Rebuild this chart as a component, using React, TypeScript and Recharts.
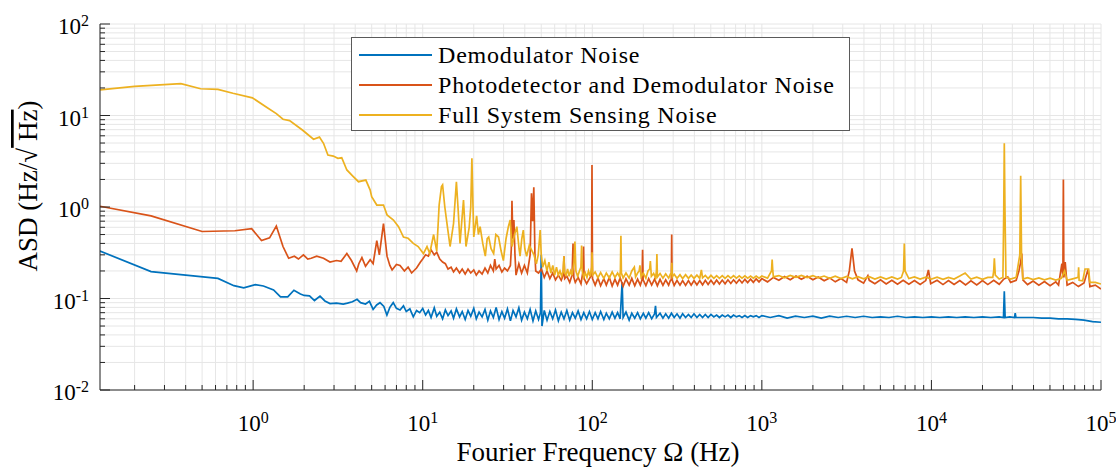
import React from 'react';
import { LineChart, Line, XAxis, YAxis, CartesianGrid, Legend, Customized } from 'recharts';

const FONT = '"Liberation Serif", "Times New Roman", serif';
const AXIS_COLOR = '#262626';
const GRID_COLOR = '#e6e6e6';
const MAJOR_LEN = 10;
const MINOR_LEN = 5;

const SERIES_NAMES = ['Demodulator Noise', 'Photodetector and Demodulator Noise', 'Full System Sensing Noise'];
const SERIES_COLORS = ['#0072bd', '#d95319', '#edb120'];

const X_DOMAIN: [number, number] = [0.125, 100000];
const Y_DOMAIN: [number, number] = [0.01, 100];
const X_DECADES = [0.1, 1, 10, 100, 1000, 10000, 100000];
const Y_DECADES = [0.01, 0.1, 1, 10, 100];
const MINOR_STEPS = [1, 2, 3, 4, 5, 6, 7, 8, 9];

// [frequency Hz, ASD Hz/sqrt(Hz)]
const demodNoise: [number, number][] = [
  [0.125, 0.33], [0.25, 0.197], [0.49, 0.173], [0.62, 0.166], [0.77, 0.138], [0.88, 0.131],
  [1.03, 0.142], [1.15, 0.137], [1.32, 0.124], [1.45, 0.104], [1.6, 0.104], [1.74, 0.123],
  [1.9, 0.112], [2.0, 0.108], [2.15, 0.107], [2.3, 0.095], [2.48, 0.106], [2.65, 0.094],
  [2.84, 0.088], [3.1, 0.089], [3.4, 0.087], [3.6, 0.089], [3.85, 0.092], [4.1, 0.098],
  [4.3, 0.09], [4.6, 0.087], [4.85, 0.093], [5.1, 0.076], [5.35, 0.085], [5.6, 0.09],
  [5.9, 0.082], [6.15, 0.066], [6.4, 0.08], [6.7, 0.09], [7.0, 0.078], [7.35, 0.075],
  [7.7, 0.083], [8.0, 0.072], [8.4, 0.077], [8.8, 0.063], [9.2, 0.074], [9.6, 0.07],
  [10, 0.078], [10.4, 0.066], [10.8, 0.074], [11.2, 0.062], [11.7, 0.079], [12.1, 0.064],
  [12.6, 0.071], [13.1, 0.06], [13.6, 0.075], [14.1, 0.065], [14.7, 0.073], [15.2, 0.061],
  [15.8, 0.077], [16.5, 0.063], [17.1, 0.072], [17.8, 0.059], [18.5, 0.074], [19.2, 0.064],
  [20, 0.078], [20.7, 0.06], [21.5, 0.071], [22.4, 0.063], [23.3, 0.076], [24.2, 0.058],
  [25.1, 0.073], [26.1, 0.062], [27.1, 0.08], [28.2, 0.059], [29.3, 0.072], [30.4, 0.061],
  [31.6, 0.077], [32.9, 0.057], [34.1, 0.074], [35.5, 0.063], [36.9, 0.079], [38.3, 0.058],
  [39.8, 0.071], [41.4, 0.06], [43, 0.076], [44.7, 0.057], [46.4, 0.073], [48.2, 0.059],
  [49.5, 0.07], [50, 0.3], [50.5, 0.05], [52.1, 0.074], [54.1, 0.058], [56.2, 0.072],
  [58.4, 0.06], [60.7, 0.075], [63.1, 0.057], [65.6, 0.071], [68.1, 0.06], [70.8, 0.074],
  [73.6, 0.058], [76.4, 0.07], [79.4, 0.061], [82.5, 0.073], [85.8, 0.059], [89.1, 0.07],
  [92.6, 0.06], [96.2, 0.072], [100, 0.059], [104, 0.07], [108, 0.06], [112, 0.072],
  [117, 0.059], [121, 0.069], [126, 0.06], [131, 0.071], [136, 0.061], [141, 0.07], [146, 0.06],
  [150, 0.15], [152, 0.062], [158, 0.071], [165, 0.058], [171, 0.069], [178, 0.061], [185, 0.07],
  [192, 0.06], [200, 0.069], [207, 0.061], [215, 0.07], [224, 0.06], [233, 0.068], [236, 0.083],
  [239, 0.062], [251, 0.069], [261, 0.061], [271, 0.068], [282, 0.061], [293, 0.069], [304, 0.062],
  [316, 0.068], [329, 0.061], [341, 0.068], [355, 0.062], [369, 0.067], [383, 0.062], [398, 0.068],
  [414, 0.062], [430, 0.067], [447, 0.062], [464, 0.067], [482, 0.062], [501, 0.067], [521, 0.063],
  [541, 0.066], [562, 0.062], [584, 0.066], [607, 0.063], [631, 0.066], [656, 0.062], [681, 0.066],
  [708, 0.063], [736, 0.065], [764, 0.062], [794, 0.065], [825, 0.062], [858, 0.065], [891, 0.063],
  [926, 0.065], [962, 0.062], [1000, 0.065], [1120, 0.062], [1260, 0.065], [1410, 0.061],
  [1580, 0.064], [1780, 0.062], [2000, 0.064], [2240, 0.061], [2510, 0.064], [2820, 0.062],
  [3160, 0.064], [3550, 0.062], [3980, 0.064], [4470, 0.062], [5010, 0.063], [5620, 0.062],
  [6310, 0.064], [7080, 0.062], [7940, 0.063], [8910, 0.062], [10000, 0.063], [11200, 0.062],
  [12600, 0.063], [14100, 0.062], [15800, 0.063], [17800, 0.062], [20000, 0.063], [22400, 0.062],
  [25100, 0.063], [26600, 0.062], [26900, 0.12], [27200, 0.062], [29000, 0.063], [30900, 0.062],
  [31200, 0.069], [31500, 0.062], [35500, 0.062], [39800, 0.062], [44700, 0.061], [50100, 0.061],
  [56200, 0.06], [63100, 0.06], [70800, 0.059], [79400, 0.058], [89100, 0.056], [100000, 0.055],
];

const detectorNoise: [number, number][] = [
  [0.125, 1.02], [0.25, 0.8], [0.5, 0.54], [0.78, 0.55], [0.98, 0.58], [1.12, 0.43], [1.25, 0.46],
  [1.37, 0.62], [1.5, 0.37], [1.62, 0.275], [1.75, 0.29], [1.85, 0.27], [1.98, 0.3], [2.1, 0.27],
  [2.2, 0.275], [2.37, 0.29], [2.6, 0.275], [2.84, 0.25], [3.1, 0.26], [3.3, 0.255], [3.57, 0.31],
  [3.8, 0.26], [4.08, 0.2], [4.2, 0.24], [4.38, 0.28], [4.6, 0.225], [4.9, 0.265], [5.1, 0.24],
  [5.36, 0.43], [5.55, 0.3], [5.87, 0.66], [6.16, 0.29], [6.4, 0.23], [6.6, 0.205], [7.0, 0.235],
  [7.35, 0.23], [7.8, 0.2], [8.2, 0.22], [8.6, 0.19], [9.2, 0.215], [9.7, 0.25],
  [10, 0.27], [10.4, 0.3], [10.8, 0.29], [11.2, 0.34], [11.7, 0.3], [12.1, 0.32], [12.6, 0.27],
  [13.1, 0.25], [13.6, 0.24], [14.1, 0.21], [14.7, 0.22], [15.2, 0.195], [15.8, 0.215],
  [16.5, 0.19], [17.1, 0.21], [17.8, 0.185], [18.5, 0.21], [19.2, 0.19], [20, 0.205], [20.7, 0.18],
  [21.5, 0.2], [22.4, 0.185], [23.3, 0.215], [24.2, 0.19], [25.1, 0.23], [26.1, 0.2], [26.6, 0.27],
  [27.1, 0.21], [28.2, 0.23], [29.3, 0.195], [30.4, 0.215], [31.6, 0.2], [32.9, 0.23], [33.3, 0.35],
  [33.6, 1.17], [34.0, 0.45], [34.5, 0.72], [35.0, 0.3], [35.5, 0.18], [36.9, 0.24], [38.3, 0.19],
  [39.8, 0.23], [41.4, 0.19], [43, 0.3], [43.8, 1.41], [44.5, 0.7], [45.2, 1.64], [45.9, 0.3],
  [46.4, 0.2], [48.2, 0.19], [50.1, 0.21], [52.1, 0.17], [54.1, 0.2], [56.2, 0.165], [58.4, 0.19],
  [60.7, 0.16], [63.1, 0.18], [65.6, 0.158], [67.4, 0.18], [68.1, 0.29], [68.8, 0.165],
  [70.8, 0.175], [73.6, 0.15], [76.0, 0.18], [77.0, 0.4], [77.8, 0.17], [79.4, 0.15], [82.5, 0.17],
  [85.8, 0.145], [88.2, 0.2], [88.8, 0.37], [89.5, 0.165], [92.6, 0.145], [96.2, 0.165],
  [99.0, 0.18], [99.6, 2.88], [100.3, 0.165], [104, 0.14], [108, 0.168], [112, 0.138], [117, 0.165],
  [121, 0.14], [126, 0.17], [131, 0.137], [136, 0.163], [141, 0.14], [146, 0.168], [152, 0.136],
  [158, 0.164], [165, 0.14], [171, 0.166], [178, 0.138], [185, 0.163], [192, 0.14], [196.5, 0.16],
  [198, 0.34], [199.5, 0.16], [207, 0.138], [215, 0.165], [224, 0.14], [233, 0.163], [242, 0.138],
  [251, 0.162], [261, 0.139], [271, 0.16], [282, 0.14], [289, 0.158], [292.5, 0.16], [294, 0.5],
  [295.5, 0.16], [304, 0.139], [316, 0.158], [329, 0.14], [341, 0.157], [355, 0.139], [369, 0.157],
  [383, 0.14], [398, 0.157], [414, 0.141], [430, 0.157], [447, 0.141], [464, 0.158], [482, 0.142],
  [501, 0.158], [521, 0.143], [541, 0.159], [562, 0.144], [584, 0.159], [607, 0.145], [631, 0.16],
  [656, 0.146], [681, 0.16], [708, 0.147], [736, 0.161], [764, 0.148], [794, 0.162], [825, 0.149],
  [858, 0.163], [891, 0.15], [926, 0.164], [962, 0.152], [1000, 0.165], [1080, 0.152],
  [1170, 0.17], [1260, 0.158], [1360, 0.174], [1470, 0.16], [1590, 0.176], [1710, 0.162],
  [1850, 0.175], [2000, 0.16], [2150, 0.172], [2330, 0.156], [2510, 0.168], [2710, 0.152],
  [2930, 0.165], [3160, 0.15], [3280, 0.2], [3400, 0.354], [3520, 0.2], [3690, 0.16], [3980, 0.147],
  [4220, 0.178], [4300, 0.158], [4640, 0.145], [5010, 0.16], [5410, 0.144], [5840, 0.158],
  [6310, 0.143], [6810, 0.158], [7360, 0.143], [7940, 0.157], [8580, 0.142], [9260, 0.157],
  [9600, 0.205], [9900, 0.145], [10800, 0.158], [11700, 0.142], [12600, 0.157], [13600, 0.142],
  [14700, 0.157], [15900, 0.141], [17100, 0.156], [18500, 0.141], [20000, 0.157], [21500, 0.142],
  [23300, 0.158], [25100, 0.143], [26600, 0.162], [28200, 0.172], [29300, 0.15], [31600, 0.158],
  [32800, 0.2], [33600, 0.25], [34100, 0.31], [34600, 0.16], [36900, 0.142], [39800, 0.155],
  [43000, 0.14], [46400, 0.153], [50100, 0.138], [54100, 0.152], [56200, 0.14], [58800, 0.24],
  [59600, 0.17], [60000, 2.0], [60400, 0.17], [61500, 0.25], [63100, 0.14], [68100, 0.15],
  [73600, 0.135], [79400, 0.148], [84000, 0.21], [86000, 0.135], [92600, 0.14], [100000, 0.127],
];

const systemNoise: [number, number][] = [
  [0.125, 19.1], [0.2, 20.8], [0.375, 22.3], [0.49, 19.6], [0.62, 19.3], [0.76, 17.5], [0.99, 15.6],
  [1.2, 12.3], [1.37, 10.5], [1.5, 9.1], [1.64, 8.8], [1.96, 6.9], [2.27, 5.5], [2.46, 5.8],
  [2.6, 4.97], [2.76, 3.7], [2.97, 3.6], [3.16, 3.4], [3.33, 3.45], [3.57, 2.54], [3.87, 2.18],
  [4.18, 1.89], [4.62, 1.97], [4.9, 1.53], [5.0, 1.3], [5.36, 1.05], [5.87, 1.05], [6.16, 0.82],
  [6.72, 0.72], [7.2, 0.61], [7.7, 0.47], [8.2, 0.455], [8.8, 0.4], [9.4, 0.37], [10.1, 0.31],
  [10.6, 0.37], [11.0, 0.31], [11.6, 0.5], [12.1, 0.33], [12.5, 1.05], [12.9, 1.67], [13.1, 1.74],
  [13.5, 1.0], [14.0, 0.6], [14.5, 0.37], [15.2, 0.66], [15.8, 1.89], [16.2, 0.9], [16.6, 0.4],
  [17.0, 0.7], [17.4, 1.19], [18.0, 0.37], [18.8, 0.6], [19.2, 1.0], [19.5, 3.4], [19.8, 1.0],
  [20.0, 0.47], [20.8, 0.8], [21.3, 0.5], [21.8, 0.61], [22.6, 0.4], [23.4, 0.29], [24.0, 0.45],
  [24.5, 0.47], [25.3, 0.35], [26.2, 0.31], [27.0, 0.5], [28.0, 0.47], [29.0, 0.33], [29.9, 0.26],
  [31.0, 0.45], [32.0, 0.61], [32.8, 0.72], [33.6, 0.37], [34.8, 0.5], [35.9, 0.61], [37.0, 0.35],
  [37.5, 0.29], [38.4, 0.45], [39.2, 0.56], [40.0, 0.35], [41.0, 0.29], [42.5, 0.38], [43.8, 0.34],
  [45.3, 0.3], [46.8, 0.24], [48.0, 0.3], [49.3, 0.56], [50.0, 0.3], [51.0, 0.22], [52.5, 0.26],
  [54.0, 0.2], [55.5, 0.25], [57.0, 0.19], [58.5, 0.23], [60.0, 0.18], [61.5, 0.22], [63.0, 0.18],
  [64.5, 0.2], [66.0, 0.175], [67.3, 0.2], [68.0, 0.29], [68.7, 0.19], [70.0, 0.18], [71.5, 0.21],
  [73.0, 0.175], [74.5, 0.2], [76.0, 0.18], [78.0, 0.25], [79.0, 0.42], [80.0, 0.2], [82.0, 0.175],
  [84.0, 0.2], [85.7, 0.22], [86.5, 0.38], [87.3, 0.2], [89.0, 0.17], [91.0, 0.19], [93.0, 0.17],
  [95.0, 0.2], [97.0, 0.175], [99.2, 0.22], [99.7, 0.32], [100.4, 0.18], [104, 0.195], [108, 0.168],
  [112, 0.192], [117, 0.166], [121, 0.19], [126, 0.168], [131, 0.195], [136, 0.17], [141, 0.19],
  [145, 0.172], [146.5, 0.2], [147.5, 0.486], [148.5, 0.19], [152, 0.168], [158, 0.19], [165, 0.167],
  [171, 0.2], [177, 0.22], [180, 0.172], [185, 0.19], [189, 0.2], [191, 0.23], [194, 0.172],
  [200, 0.19], [207, 0.167], [213, 0.2], [218, 0.21], [220, 0.257], [223, 0.175], [230, 0.188],
  [236, 0.168], [239, 0.2], [240.5, 0.307], [242, 0.172], [251, 0.188], [261, 0.167], [271, 0.186],
  [282, 0.167], [289, 0.185], [293, 0.19], [294.5, 0.245], [296, 0.172], [304, 0.184], [316, 0.166],
  [329, 0.182], [341, 0.165], [355, 0.182], [369, 0.166], [383, 0.18], [398, 0.166], [414, 0.18],
  [430, 0.166], [440, 0.205], [447, 0.168], [464, 0.179], [482, 0.165], [501, 0.179], [521, 0.166],
  [541, 0.178], [562, 0.166], [584, 0.178], [607, 0.166], [631, 0.178], [656, 0.167], [681, 0.178],
  [708, 0.167], [736, 0.177], [764, 0.167], [794, 0.177], [825, 0.167], [858, 0.176], [891, 0.167],
  [926, 0.176], [962, 0.167], [1000, 0.176], [1080, 0.167], [1140, 0.2], [1150, 0.267], [1160, 0.2],
  [1170, 0.172], [1260, 0.178], [1360, 0.168], [1470, 0.179], [1590, 0.17], [1710, 0.179],
  [1850, 0.169], [2000, 0.178], [2150, 0.168], [2330, 0.176], [2510, 0.166], [2710, 0.175],
  [2930, 0.165], [3160, 0.174], [3420, 0.164], [3690, 0.173], [3980, 0.164], [4300, 0.173],
  [4640, 0.163], [5010, 0.172], [5410, 0.163], [5840, 0.172], [6310, 0.163], [6650, 0.17],
  [6850, 0.2], [6920, 0.4], [6990, 0.2], [7360, 0.165], [7940, 0.172], [8580, 0.163], [9260, 0.171],
  [10000, 0.163], [10800, 0.171], [11700, 0.162], [12600, 0.17], [13600, 0.163], [14700, 0.176],
  [15800, 0.19], [16600, 0.172], [17100, 0.163], [18500, 0.171], [20000, 0.162], [21500, 0.17],
  [23000, 0.17], [23300, 0.2], [23500, 0.275], [23800, 0.18], [25100, 0.163], [26400, 0.17],
  [26700, 0.9], [26900, 4.97], [27150, 0.9], [27500, 0.172], [29300, 0.163], [31600, 0.17],
  [33200, 0.3], [33600, 2.2], [34000, 0.3], [34600, 0.163], [36900, 0.169], [39800, 0.161],
  [43000, 0.168], [46400, 0.16], [50100, 0.167], [54100, 0.159], [58400, 0.166], [61000, 0.2],
  [63100, 0.158], [68100, 0.164], [73300, 0.17], [73800, 0.22], [74300, 0.158], [78000, 0.156],
  [80500, 0.21], [81500, 0.21], [84500, 0.21], [86000, 0.15], [92600, 0.15], [100000, 0.144],
];

const SERIES = [demodNoise, detectorNoise, systemNoise];

const toRows = (pts: [number, number][]) => pts.map(([f, v]) => ({ f, v }));

// all 1..9 multiples of each decade that fall inside the axis range
const buildTicks = (decades: number[], [lo, hi]: [number, number]) =>
  decades
    .flatMap((d) => MINOR_STEPS.map((m) => d * m))
    .filter((v) => v >= lo * 0.999 && v <= hi * 1.001);

const X_TICKS = buildTicks(X_DECADES, X_DOMAIN);
const Y_TICKS = buildTicks(Y_DECADES, Y_DOMAIN);

const isMajor = (v: number) => Math.abs(Math.log10(v) - Math.round(Math.log10(v))) < 1e-6;
const exponent = (v: number) => String(Math.round(Math.log10(v)));

const PowerLabel = ({ x, y, v, anchor }: any) => (
  <text x={x} y={y} textAnchor={anchor} fontSize={23} fontFamily={FONT} fill="#000">
    10
    <tspan dy={-8} fontSize={16}>
      {exponent(v)}
    </tspan>
  </text>
);

// MATLAB-style ticks: drawn inward from the box edge
const BottomTick = ({ x, y, payload }: any) => {
  const major = isMajor(payload.value);
  return (
    <g>
      <line x1={x} y1={y} x2={x} y2={y - (major ? MAJOR_LEN : MINOR_LEN)} stroke={AXIS_COLOR} />
      {major && <PowerLabel x={x} y={y + 41} v={payload.value} anchor="middle" />}
    </g>
  );
};

const TopTick = ({ x, y, payload }: any) => {
  const major = isMajor(payload.value);
  return <line x1={x} y1={y} x2={x} y2={y + (major ? MAJOR_LEN : MINOR_LEN)} stroke={AXIS_COLOR} />;
};

const LeftTick = ({ x, y, payload }: any) => {
  const major = isMajor(payload.value);
  return (
    <g>
      <line x1={x} y1={y} x2={x + (major ? MAJOR_LEN : MINOR_LEN)} y2={y} stroke={AXIS_COLOR} />
      {major && <PowerLabel x={x - 11} y={y + 10} v={payload.value} anchor="end" />}
    </g>
  );
};

const RightTick = ({ x, y, payload }: any) => {
  const major = isMajor(payload.value);
  return <line x1={x} y1={y} x2={x - (major ? MAJOR_LEN : MINOR_LEN)} y2={y} stroke={AXIS_COLOR} />;
};

const AxisTitles = () => (
  <g fontFamily={FONT} fill="#000">
    <text x={598} y={461} textAnchor="middle" fontSize={27}>
      Fourier Frequency Ω (Hz)
    </text>
    <text transform="translate(37, 186) rotate(-90)" textAnchor="middle" fontSize={27}>
      ASD (Hz/√<tspan style={{ textDecoration: 'overline' }}> Hz</tspan>)
    </text>
  </g>
);

const LegendBox = () => (
  <div
    style={{
      boxSizing: 'border-box',
      width: 499,
      height: 94,
      border: '1px solid #5a5a5a',
      background: '#fff',
      paddingTop: 2,
      fontFamily: FONT,
      fontSize: 24,
      letterSpacing: 0.8,
      color: '#000',
    }}
  >
    {SERIES_NAMES.map((name, i) => (
      <div key={name} style={{ display: 'flex', alignItems: 'center', height: 30, whiteSpace: 'nowrap' }}>
        <svg width={86} height={30} style={{ flex: 'none' }}>
          <line x1={7} y1={15} x2={80} y2={15} stroke={SERIES_COLORS[i]} strokeWidth={1.8} />
        </svg>
        <span>{name}</span>
      </div>
    ))}
  </div>
);

export default function App() {
  return (
    <div style={{ position: 'absolute', left: 0, top: 0, background: '#fff' }}>
      <LineChart width={1116} height={470} margin={{ top: 24, right: 15, bottom: 0, left: 0 }}>
        <CartesianGrid stroke={GRID_COLOR} />
        <XAxis
          dataKey="f"
          type="number"
          scale="log"
          domain={X_DOMAIN}
          allowDataOverflow
          ticks={X_TICKS}
          interval={0}
          height={80}
          tickSize={0}
          tickMargin={0}
          tickLine={false}
          axisLine={{ stroke: AXIS_COLOR }}
          tick={<BottomTick />}
        />
        <XAxis
          xAxisId="top"
          orientation="top"
          dataKey="f"
          type="number"
          scale="log"
          domain={X_DOMAIN}
          allowDataOverflow
          ticks={X_TICKS}
          interval={0}
          height={0}
          tickSize={0}
          tickMargin={0}
          tickLine={false}
          axisLine={{ stroke: AXIS_COLOR }}
          tick={<TopTick />}
        />
        <YAxis
          type="number"
          scale="log"
          domain={Y_DOMAIN}
          allowDataOverflow
          ticks={Y_TICKS}
          interval={0}
          width={100}
          tickSize={0}
          tickMargin={0}
          tickLine={false}
          axisLine={{ stroke: AXIS_COLOR }}
          tick={<LeftTick />}
        />
        <YAxis
          yAxisId="right"
          orientation="right"
          type="number"
          scale="log"
          domain={Y_DOMAIN}
          allowDataOverflow
          ticks={Y_TICKS}
          interval={0}
          width={0}
          tickSize={0}
          tickMargin={0}
          tickLine={false}
          axisLine={{ stroke: AXIS_COLOR }}
          tick={<RightTick />}
        />
        {SERIES.map((pts, i) => (
          <Line
            key={SERIES_NAMES[i]}
            name={SERIES_NAMES[i]}
            data={toRows(pts)}
            dataKey="v"
            type="linear"
            stroke={SERIES_COLORS[i]}
            strokeWidth={1.7}
            dot={false}
            activeDot={false}
            isAnimationActive={false}
          />
        ))}
        <Legend
          layout="horizontal"
          verticalAlign="middle"
          align="center"
          wrapperStyle={{ left: 351, top: 37, width: 499, height: 94 }}
          content={() => <LegendBox />}
        />
        <Customized component={<AxisTitles />} />
      </LineChart>
    </div>
  );
}
